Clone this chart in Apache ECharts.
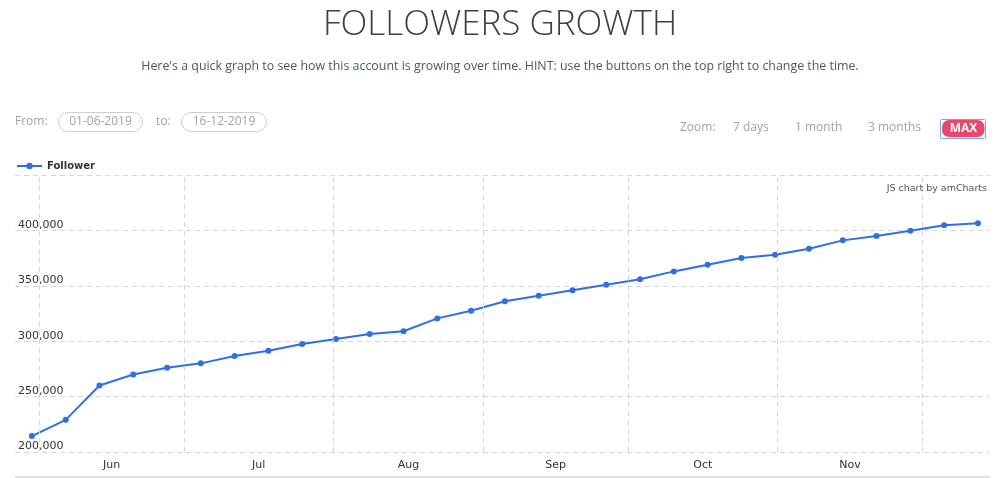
<!DOCTYPE html>
<html>
<head>
<meta charset="utf-8">
<title>Followers Growth</title>
<script src="https://cdn.jsdelivr.net/npm/echarts@6/dist/echarts.min.js"></script>
<style>
  html, body { margin: 0; padding: 0; background: #fff; }
  #chart { width: 1000px; height: 478px; }
</style>
</head>
<body>
<div id="chart"></div>
<script>
// weekly follower counts
const dates = [
    '2019-05-30', '2019-06-06', '2019-06-13', '2019-06-20', '2019-06-27',
    '2019-07-04', '2019-07-11', '2019-07-18', '2019-07-25', '2019-08-01',
    '2019-08-08', '2019-08-15', '2019-08-22', '2019-08-29', '2019-09-05',
    '2019-09-12', '2019-09-19', '2019-09-26', '2019-10-03', '2019-10-10',
    '2019-10-17', '2019-10-24', '2019-10-31', '2019-11-07', '2019-11-14',
    '2019-11-21', '2019-11-28', '2019-12-05', '2019-12-12'
];
const followers = [
    214400, 229000, 260000, 270000, 276000,
    280000, 286600, 291400, 297500, 302000,
    306500, 309000, 320600, 327500, 336000,
    341000, 346000, 351000, 356000, 363000,
    369000, 375000, 378000, 383500, 391000,
    395000, 399700, 404600, 406400
];
const monthStarts = ['2019-06-01', '2019-07-01', '2019-08-01', '2019-09-01', '2019-10-01', '2019-11-01', '2019-12-01'];
const monthNames = ['Jan', 'Feb', 'Mar', 'Apr', 'May', 'Jun', 'Jul', 'Aug', 'Sep', 'Oct', 'Nov', 'Dec'];
const rangeStart = '2019-05-27';
const rangeEnd = '2019-12-15';
const fromDate = '01-06-2019';
const toDate = '16-12-2019';
const zoomButtons = ['7 days', '1 month', '3 months'];

const ts = (d, h) => Date.parse(d + 'T' + (h || '00') + ':00:00Z');

const seriesData = dates.map((d, i) => [ts(d, '12'), followers[i]]);
const monthLines = monthStarts.map(d => ({xAxis: ts(d)}));
// label in the middle of each full month
const monthMids = [];
for (let i = 0; i < monthStarts.length - 1; i++) {
    monthMids.push((ts(monthStarts[i]) + ts(monthStarts[i + 1])) / 2);
}

const greyText = '#a3a3a3';
const headFont = '"Open Sans", sans-serif';
const smallFont = '12px ' + headFont;

const chart = echarts.init(document.getElementById('chart'), null, {renderer: 'canvas'});

const label = (x, y, text) => ({
    type: 'text', x: x, y: y, silent: true,
    style: {text: text, fill: greyText, font: smallFont, verticalAlign: 'middle'}
});

const pill = (x, w, text) => ([
    {
        type: 'rect', silent: true,
        shape: {x: x, y: 112.5, width: w, height: 19, r: 9.5},
        style: {fill: 'none', stroke: '#cfcfcf', lineWidth: 1}
    },
    {
        type: 'text', silent: true,
        x: x + w / 2, y: 122,
        style: {text: text, fill: greyText, font: smallFont, align: 'center', verticalAlign: 'middle'}
    }
]);

const graphics = [
    label(15, 122, 'From:'),
    ...pill(58.5, 84, fromDate),
    label(156, 122, 'to:'),
    ...pill(181.5, 85, toDate),
    label(680, 128, 'Zoom:'),
    label(733, 128, zoomButtons[0]),
    label(795, 128, zoomButtons[1]),
    label(868, 128, zoomButtons[2]),
    {
        type: 'rect', silent: true,
        shape: {x: 942, y: 120, width: 42.5, height: 17, r: 7},
        style: {fill: '#ea476d'}
    },
    {
        type: 'rect', silent: true,
        shape: {x: 940.5, y: 119.5, width: 45, height: 19, r: 1},
        style: {fill: 'none', stroke: '#7ea4ea', lineWidth: 1}
    },
    {type: 'text', x: 963.5, y: 128.5, silent: true,
        style: {text: 'MAX', fill: '#fff', font: 'bold 12px ' + headFont, align: 'center', verticalAlign: 'middle'}},
    {
        type: 'line', silent: true,
        shape: {x1: 15, y1: 477, x2: 990, y2: 477},
        style: {stroke: '#d8d8d8', lineWidth: 1.5}
    }
];

chart.setOption({
    animation: false,
    title: [
        {
            text: 'FOLLOWERS GROWTH',
            left: 'center', top: 3,
            textStyle: {fontFamily: headFont, fontWeight: 300, fontSize: 35, color: '#3c4147'}
        },
        {
            text: "Here's a quick graph to see how this account is growing over time. HINT: use the buttons on the top right to change the time.",
            left: 'center', top: 55,
            textStyle: {fontFamily: headFont, fontWeight: 'normal', fontSize: 12.4, color: '#4a5867'}
        },
        {
            text: 'JS chart by amCharts',
            right: 8, top: 179,
            textStyle: {fontFamily: 'DejaVu Sans', fontWeight: 'normal', fontSize: 9.5, color: '#555'}
        }
    ],
    legend: {
        left: 11, top: 156,
        itemWidth: 25, itemHeight: 8, itemGap: 10,
        textStyle: {fontFamily: 'DejaVu Sans', fontSize: 10, fontWeight: 'bold', color: '#333'},
        data: ['Follower']
    },
    graphic: graphics,
    grid: {left: 15, right: 10, top: 175, bottom: 26, containLabel: false},
    xAxis: {
        type: 'value',
        min: ts(rangeStart),
        max: ts(rangeEnd),
        axisLine: {show: false},
        axisTick: {show: false},
        splitLine: {show: false},
        axisLabel: {
            customValues: monthMids,
            margin: 8,
            fontFamily: 'DejaVu Sans', fontSize: 11, color: '#333',
            formatter: v => monthNames[new Date(v).getUTCMonth()]
        }
    },
    yAxis: {
        type: 'value',
        min: 200000, max: 450000, interval: 50000,
        axisLine: {show: false},
        axisTick: {show: false},
        splitLine: {show: true, lineStyle: {type: [5, 4], color: '#d6d6d6', width: 1}},
        axisLabel: {
            inside: true, margin: 3,
            verticalAlign: 'bottom',
            showMaxLabel: false,
            fontFamily: 'DejaVu Sans', fontSize: 11, color: '#333',
            formatter: v => v.toLocaleString('en-US')
        }
    },
    series: [{
        name: 'Follower',
        type: 'line',
        data: seriesData,
        color: '#306ee2',
        symbol: 'circle',
        symbolSize: 6,
        lineStyle: {width: 2},
        markLine: {
            silent: true,
            symbol: 'none',
            label: {show: false},
            lineStyle: {type: [5, 4], color: '#d6d6d6', width: 1},
            data: monthLines
        }
    }]
});
</script>
</body>
</html>
